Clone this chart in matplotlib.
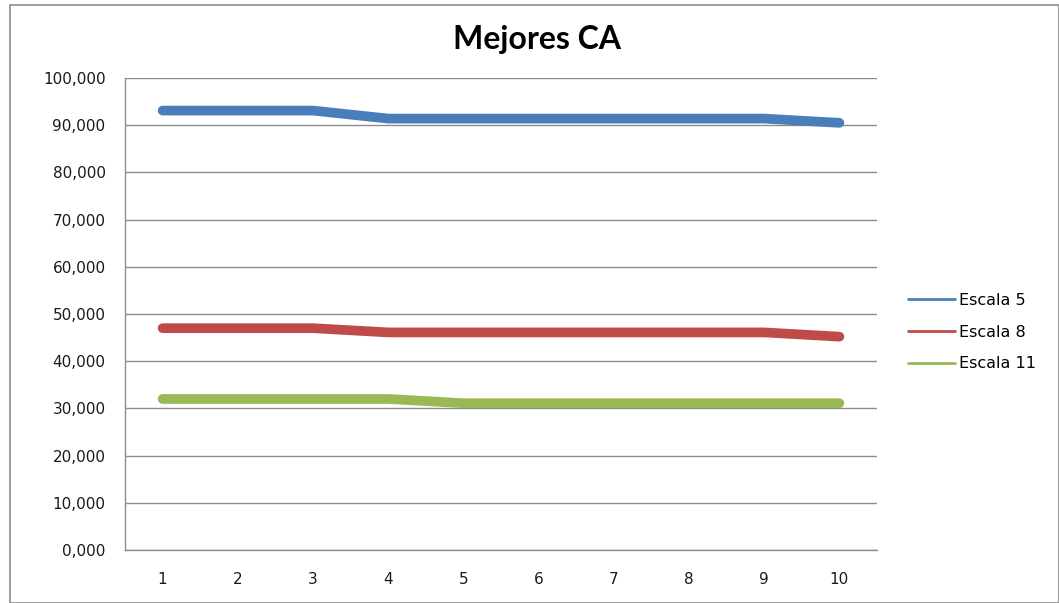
import matplotlib
matplotlib.use("Agg")
import matplotlib.pyplot as plt
from matplotlib.patches import Rectangle
from matplotlib.ticker import FuncFormatter, MultipleLocator

# Data
categories = [1, 2, 3, 4, 5, 6, 7, 8, 9, 10]
escala_5 = [93100, 93100, 93100, 91400, 91400, 91400, 91400, 91400, 91400, 90500]
escala_8 = [47000, 47000, 47000, 46100, 46100, 46100, 46100, 46100, 46100, 45200]
escala_11 = [32000, 32000, 32000, 32000, 31100, 31100, 31100, 31100, 31100, 31100]
series_names = ["Escala 5", "Escala 8", "Escala 11"]
colors = ["#4A7EBB", "#BE4B48", "#98B954"]

W, H = 1059, 603
fig = plt.figure(figsize=(W / 100, H / 100), dpi=100)
fig.patch.set_facecolor("white")

# Chart frame
fig.patches.append(Rectangle((10 / W, 0), (W - 10) / W, (H - 5) / H,
                             transform=fig.transFigure, fill=False,
                             edgecolor="#8c8c8c", linewidth=1.2, zorder=0))

ax = fig.add_axes([125 / W, (H - 550) / H, (877 - 125) / W, (550 - 78) / H])

for vals, name, c in zip([escala_5, escala_8, escala_11], series_names, colors):
    ax.plot(categories, vals, color=c, linewidth=7, solid_capstyle="round",
            solid_joinstyle="round", label=name, zorder=3)

ax.set_xlim(0.5, 10.5)
ax.set_ylim(0, 100000)
ax.yaxis.set_major_locator(MultipleLocator(10000))
ax.yaxis.set_major_formatter(FuncFormatter(lambda v, p: f"{int(v/1000)},000"))
ax.set_xticks(categories)
ax.set_xticklabels([str(c) for c in categories])

ax.grid(axis="y", color="#8c8c8c", linewidth=1.0, zorder=1)
ax.set_axisbelow(True)
for side in ["top", "right"]:
    ax.spines[side].set_visible(False)
for side in ["left", "bottom"]:
    ax.spines[side].set_color("#8c8c8c")
    ax.spines[side].set_linewidth(1.0)
ax.tick_params(axis="both", length=0, labelsize=11, labelcolor="#1a1a1a")
ax.tick_params(axis="y", pad=14)
ax.tick_params(axis="x", pad=16)

fig.text(537 / W, 1 - 40 / H, "Mejores CA", ha="center", va="center",
         fontsize=23, fontweight="bold", family="Lato", color="black")

leg = ax.legend(loc="center left", bbox_to_anchor=(894 / W, 1 - 332 / H),
                bbox_transform=fig.transFigure, frameon=False,
                fontsize=11.5, handlelength=2.9, handletextpad=0.25,
                labelspacing=1.05)
for line in leg.get_lines():
    line.set_linewidth(2)

fig.savefig("out.png", dpi=100, facecolor="white")
